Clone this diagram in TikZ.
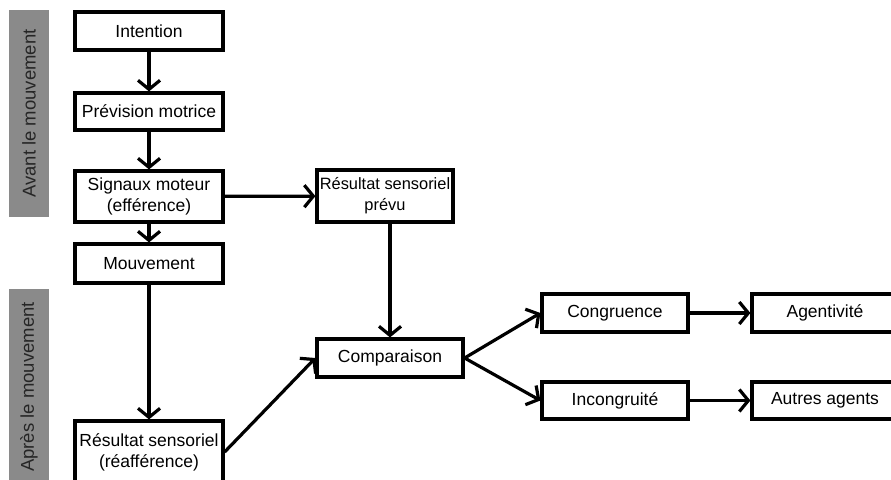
\documentclass[tikz,border=0pt]{standalone}
\usepackage{fontspec}
\setmainfont{Liberation Sans}
\usetikzlibrary{arrows.meta}
\definecolor{bandgray}{HTML}{8A8A8A}
\definecolor{bandtext}{HTML}{262626}
\begin{document}
\begin{tikzpicture}[x=1pt,y=-1pt,
  box/.style={draw, line width=3.2pt, fill=white, minimum width=148pt, minimum height=38pt,
    inner sep=0pt, align=center, font=\fontsize{17.5}{21}\selectfont},
  arr/.style={line width=3.2pt, -{Straight Barb[length=9pt,width=22pt]}},
  band/.style={fill=bandgray, draw=none, rotate=90, minimum height=40pt, inner sep=0pt,
    text=bandtext, font=\fontsize{18.5}{22}\selectfont}
]
\clip (0,0) rectangle (891,479);
\useasboundingbox (0,0) rectangle (891,479);

\node[band, minimum width=207pt] (avant) at (29,113.5) {Avant le mouvement};
\node[band, minimum width=196pt] (apres) at (29,387) {Après le mouvement};

\node[box] (int) at (149,31) {Intention};
\node[box, minimum height=37pt] (prev) at (149,111.5) {Prévision motrice};
\node[box, minimum height=51pt] (sig) at (149,196.5) {Signaux moteur\\(efférence)};
\node[box, minimum height=39pt] (mouv) at (149,263.5) {Mouvement};
\node[box, minimum height=62pt] (reaf) at (149,452) {Résultat sensoriel\\(réafférence)};
\node[box, minimum width=136pt, minimum height=52pt, font=\fontsize{16.4}{21}\selectfont] (rsp) at (385,196) {Résultat sensoriel\\prévu};
\node[box, minimum width=146pt] (comp) at (390,358) {Comparaison};
\node[box, minimum width=146pt] (cong) at (615,313) {Congruence};
\node[box, minimum width=146pt, minimum height=37pt] (incg) at (615,400.5) {Incongruité};
\node[box, minimum width=146pt] (agent) at (825,313) {Agentivité};
\node[box, minimum width=146pt, minimum height=37pt] (autres) at (825,400.5) {Autres agents};

\draw[arr] (int) -- (prev);
\draw[arr] (prev) -- (sig);
\draw[arr] (sig) -- (mouv);
\draw[arr] (sig) -- (rsp);
\draw[arr] (comp.north |- rsp.south) -- (comp.north);
\draw[arr] (mouv) -- (reaf);
\draw[arr] (reaf.east) -- (comp.west);
\draw[arr] (comp.east) -- (cong.west);
\draw[arr] (comp.east) -- (incg.west);
\draw[arr] (cong) -- (agent);
\draw[arr] (incg) -- (autres);
\end{tikzpicture}
\end{document}
